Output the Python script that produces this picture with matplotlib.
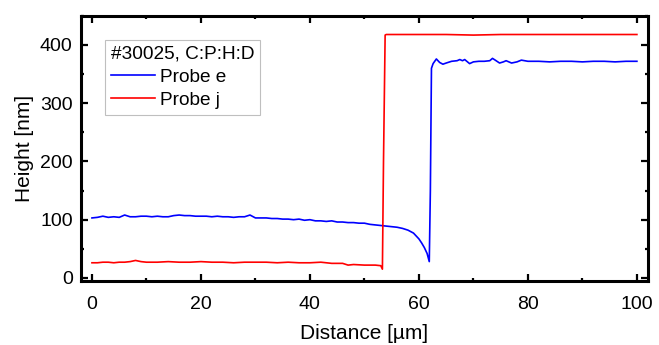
import matplotlib
matplotlib.use("Agg")

import matplotlib.pyplot as plt
from matplotlib.ticker import MultipleLocator

# Probe e (blue)
dist_e = [0, 1, 2, 3, 4, 5, 6, 7, 8, 9, 10, 11, 12, 13, 14, 15, 16, 17, 18, 19,
          20, 21, 22, 23, 24, 25, 26, 27, 28, 29, 30, 31, 32, 33, 34, 35, 36, 37,
          38, 39, 40, 41, 42, 43, 44, 45, 46, 47, 48, 49, 50, 51, 52, 53, 54, 55,
          56, 57, 58, 59, 60, 60.5, 61, 61.5, 61.9, 62.1, 62.3, 62.6, 63.2, 63.8,
          64.4, 65, 66, 67, 67.5, 68, 68.4, 69.3, 70, 71, 72, 73, 73.5, 74, 74.8,
          75.5, 76, 77, 78, 78.8, 80, 82, 84, 86, 88, 90, 92, 94, 96, 98, 100]
height_e = [103, 104, 106, 104, 105, 104, 108, 105, 105, 106, 106, 105, 106, 105,
            105, 107, 108, 107, 107, 106, 106, 106, 105, 106, 105, 105, 104, 105,
            105, 108, 103, 103, 103, 102, 102, 101, 101, 100, 101, 99, 100, 98,
            98, 97, 98, 96, 96, 95, 95, 94, 94, 92, 91, 90, 89, 88, 87, 85, 82,
            77, 67, 60, 52, 42, 28, 150, 360, 368, 376, 370, 367, 369, 372, 373,
            375, 373, 375, 368, 371, 372, 372, 373, 377, 374, 369, 371, 373, 369,
            371, 374, 372, 372, 371, 372, 372, 371, 372, 372, 371, 372, 372]

# Probe j (red)
dist_j = [0, 1, 2, 3, 4, 5, 6, 7, 8, 9, 10, 12, 14, 16, 18, 20, 22, 24, 26, 28,
          30, 32, 34, 36, 38, 40, 42, 44, 46, 47, 48, 50, 52, 53, 53.3, 53.5,
          53.8, 54, 56, 60, 65, 70, 75, 80, 85, 90, 95, 100]
height_j = [26, 26, 27, 27, 26, 27, 27, 28, 30, 28, 27, 27, 28, 27, 27, 28, 27,
            27, 26, 27, 27, 27, 26, 27, 26, 26, 27, 25, 25, 22, 23, 22, 22, 21,
            15, 200, 417, 418, 418, 418, 418, 417, 418, 418, 418, 418, 418, 418]

legend_title = "#30025, C:P:H:D"

plt.rcParams["font.family"] = ["Liberation Sans", "DejaVu Sans"]

fig = plt.figure(figsize=(6.59, 3.45), dpi=100)
ax = fig.add_axes([0.123, 0.186, 0.860, 0.768])

ax.plot(dist_e, height_e, color="#0000ff", lw=1.2, label="Probe e")
ax.plot(dist_j, height_j, color="#ff0000", lw=1.2, label="Probe j")

ax.set_xlim(-2, 102)
ax.set_ylim(-5, 450)
ax.xaxis.set_major_locator(MultipleLocator(20))
ax.xaxis.set_minor_locator(MultipleLocator(10))
ax.yaxis.set_major_locator(MultipleLocator(100))
ax.yaxis.set_minor_locator(MultipleLocator(50))
ax.tick_params(which="both", direction="in", top=True, right=True, width=1.6,
               labelsize=14)
ax.tick_params(axis="x", which="major", pad=11)
ax.tick_params(axis="y", which="major", pad=6)
ax.tick_params(which="major", length=5)
ax.tick_params(which="minor", length=2.5)
for sp in ax.spines.values():
    sp.set_linewidth(2.2)

ax.set_xlabel("Distance [µm]", fontsize=15, labelpad=8)
ax.set_ylabel("Height [nm]", fontsize=15, labelpad=4)

leg = ax.legend(title=legend_title, loc="upper left", bbox_to_anchor=(0.042, 0.908),
                fontsize=13.7, title_fontsize=13.7, alignment="left",
                frameon=True, fancybox=False, edgecolor="#b0b0b0",
                handlelength=2.35, handletextpad=0.27, borderpad=0.3,
                labelspacing=0.3, borderaxespad=0)
leg.get_frame().set_linewidth(0.8)

fig.savefig("out.png", dpi=100)
